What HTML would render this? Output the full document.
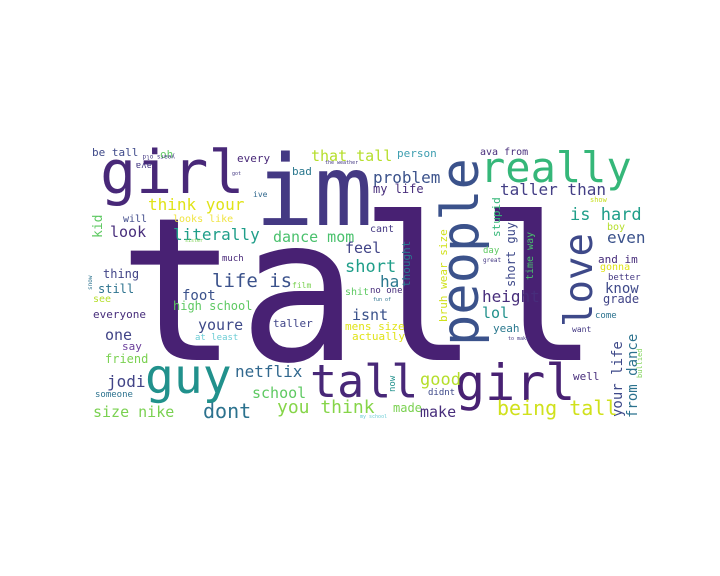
<!DOCTYPE html>
<html><head><meta charset="utf-8"><style>
html,body{margin:0;padding:0;background:#fff;width:720px;height:576px;overflow:hidden}
svg text{font-family:"DejaVu Sans Mono","Liberation Mono",monospace}
</style></head><body>
<svg width="720" height="576" viewBox="0 0 720 576" xmlns="http://www.w3.org/2000/svg">
<g id="words"></g>
</svg>
<script>
const words=["tall","im","girl","really","people","love","tall","girl","guy","be tall","oh","every","bad","ive","that tall","think your","will","looks like","kid","look","literally","dance mom","feel","much","short","thing","life is","film","person","ava from","problem","my life","taller than","stupid","show","is hard","cant","boy","even","thought","bruh wear size","short guy","time way","day","great","and im","gonna","better","know","still","see","foot","high school","everyone","youre","taller","isnt","shit","no one","one","at least","say","mens size","actually","friend","netflix","jodi","someone","school","size nike","dont","you think","ha","height","lol","yeah","come","want","grade","your life","from dance","bullied","well","good","didnt","made","make","being tall","now","years old","ava","got","the weather","sister","snow","fun of","to make","my school"];
const sizes=[200,98,60,42,52,39,45,50,48,11,11,11,11,8,15,16,10,10,13,15,16,15,15,9,17,12,19,8,11,10,16,12,16,11,7,17,10,10,16,11,11,12,10,9,6,11,10,9,14,12,10,14,12,11,15,11,15,10,9,15,9,11,11,11,12,16,16,9,15,15,20,18,16,16,15,11,9,8,12,14,14,7,11,17,9,12,15,20,9,6,9,5,5,5,6,5,5,5];
const xs=[118,255,100,480,478,592,310,455,145,92,160,237,292,253,311,148,123,173,102,110,173,273,345,222,345,103,212,292,397,480,373,373,500,500,590,570,370,607,607,410,447,515,533,483,483,598,600,608,605,98,93,182,173,93,198,273,352,345,370,105,195,122,345,352,105,235,107,95,252,93,203,277,380,482,482,493,595,572,603,622,637,642,573,420,428,393,420,497,395,175,152,232,325,185,92,373,508,360];
const ys=[360,225,193,182,346,327,397,400,393,156,158,162,175,197,161,210,222,222,238,237,240,242,253,261,272,278,287,288,157,155,183,193,195,237,202,220,232,230,243,287,322,287,280,253,262,263,270,280,293,293,302,300,310,318,330,327,320,295,293,340,340,350,330,340,363,377,387,397,398,417,418,413,287,302,318,332,318,332,303,417,418,378,380,385,395,412,417,415,392,155,163,175,164,242,290,301,340,418];
const colors=["#482173","#443983","#482878","#35b779","#3b528b","#3e4989","#482878","#482173","#21918c","#3e4989","#5ec962","#482878","#2a788e","#31688e","#b5de2b","#e0e318","#3e4989","#f0e442","#5ec962","#472d7b","#1f9e89","#4ac16d","#414487","#482878","#1f9e89","#414487","#3b528b","#7ad151","#3e9eb0","#472d7b","#3b528b","#472d7b","#433e85","#35b779","#c8e020","#1f9e89","#443983","#b5de2b","#3b528b","#2a788e","#d0e11c","#3e4989","#4ac16d","#5ec962","#443983","#472d7b","#e0e318","#443983","#3e4989","#2c728e","#b5de2b","#3b528b","#5ec962","#472d7b","#3e4989","#404588","#3b528b","#5ec962","#472d7b","#414487","#6ccdd5","#6a3d9a","#e0e318","#e0e318","#7ad151","#31688e","#414487","#2c728e","#5ec962","#7ad151","#2c728e","#86d549","#2a788e","#472d7b","#21918c","#2a788e","#2c728e","#443983","#414487","#3e4989","#2c728e","#7ad151","#472d7b","#b5de2b","#3e4989","#7ad151","#472d7b","#d0e11c","#21918c","#443983","#443983","#443983","#443983","#7ad151","#2c728e","#2c728e","#443983","#6ccdd5"];
const rot=[0,0,0,0,1,1,0,0,0,0,0,0,0,0,0,0,0,0,1,0,0,0,0,0,0,0,0,0,0,0,0,0,0,1,0,0,0,0,0,1,1,1,1,0,0,0,0,0,0,0,0,0,0,0,0,0,0,0,0,0,0,0,0,0,0,0,0,0,0,0,0,0,0,0,0,0,0,0,0,1,1,1,0,0,0,0,0,0,1,2,2,0,0,0,1,0,0,0];
const g=document.getElementById('words');
const NS="http://www.w3.org/2000/svg";
for(let i=0;i<words.length;i++){
  const t=document.createElementNS(NS,'text');
  t.setAttribute('x',xs[i]);t.setAttribute('y',ys[i]);
  t.setAttribute('font-size',sizes[i]);t.setAttribute('fill',colors[i]);
  if(rot[i]===1)t.setAttribute('transform','rotate(-90 '+xs[i]+' '+ys[i]+')');
  if(rot[i]===2)t.setAttribute('transform','rotate(180 '+xs[i]+' '+ys[i]+')');
  t.textContent=words[i];
  
  
  g.appendChild(t);
}
</script>
</body></html>
